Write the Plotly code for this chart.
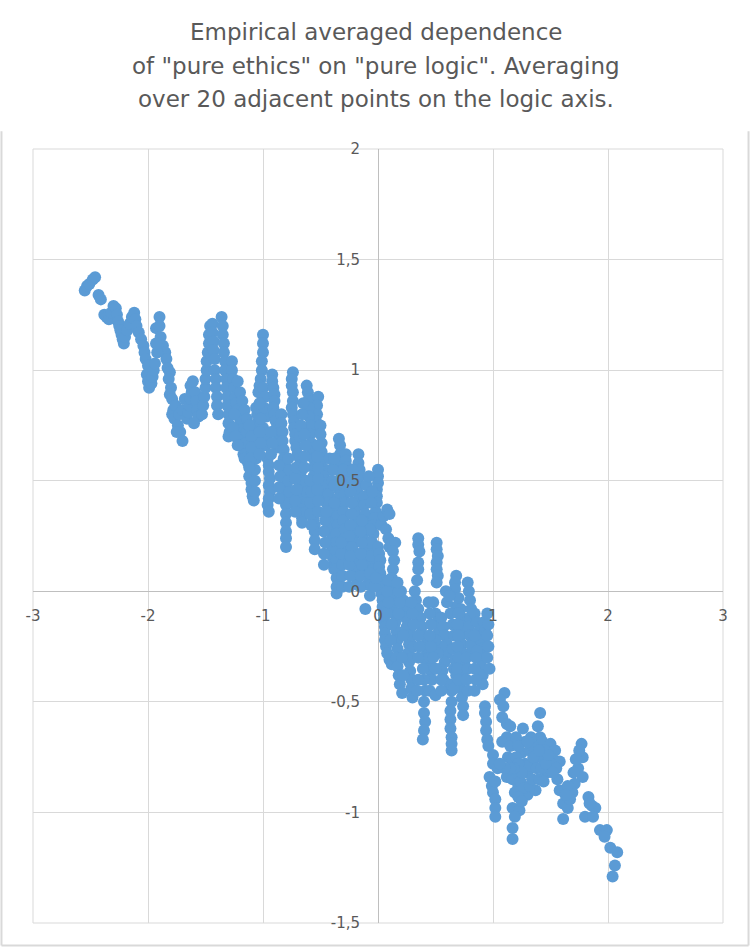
import plotly.graph_objects as go

# Points, grouped by region of the logic axis
seg_left = [
    (-2.55, 1.36), (-2.53, 1.38), (-2.51, 1.39), (-2.48, 1.41), (-2.46, 1.42),
    (-2.43, 1.34), (-2.41, 1.32), (-2.38, 1.25), (-2.36, 1.24), (-2.34, 1.23), (-2.32, 1.26),
    (-2.30, 1.29), (-2.28, 1.28), (-2.27, 1.25), (-2.26, 1.22),
    (-2.25, 1.20), (-2.24, 1.18), (-2.23, 1.16), (-2.22, 1.14), (-2.21, 1.12), (-2.20, 1.15),
    (-2.18, 1.18), (-2.16, 1.21), (-2.14, 1.24), (-2.12, 1.26), (-2.11, 1.23), (-2.10, 1.20), (-2.08, 1.17),
    (-2.06, 1.14), (-2.04, 1.11), (-2.03, 1.08), (-2.02, 1.05), (-2.00, 1.02), (-2.01, 0.98),
    (-2.00, 0.95), (-1.99, 0.92), (-1.97, 0.94), (-1.96, 0.97), (-1.95, 1.00), (-1.94, 1.03),
    (-1.93, 1.19), (-1.90, 1.24), (-1.90, 1.20), (-1.89, 1.15), (-1.87, 1.11), (-1.85, 1.08),
    (-1.84, 1.05), (-1.83, 1.01), (-1.81, 0.99), (-1.82, 0.96), (-1.80, 0.92), (-1.81, 0.89),
    (-1.79, 0.87), (-1.78, 0.82), (-1.79, 0.80), (-1.77, 0.78), (-1.74, 0.75), (-1.72, 0.72), (-1.70, 0.68),
    (-1.92, 1.08), (-1.93, 1.12), (-1.76, 0.84), (-1.73, 0.80), (-1.75, 0.72),
]

seg_mid_left = [
    (-1.68, 0.87), (-1.70, 0.82), (-1.66, 0.78), (-1.65, 0.81), (-1.64, 0.84), (-1.63, 0.87),
    (-1.62, 0.90), (-1.63, 0.93), (-1.61, 0.95), (-1.59, 0.90), (-1.58, 0.86), (-1.57, 0.82),
    (-1.56, 0.79), (-1.60, 0.76),
    (-1.53, 0.80), (-1.52, 0.84), (-1.51, 0.88), (-1.50, 0.92), (-1.50, 0.96), (-1.49, 1.00),
    (-1.49, 1.04), (-1.48, 1.08), (-1.47, 1.12), (-1.47, 1.16), (-1.46, 1.20), (-1.44, 1.21),
    (-1.44, 1.17), (-1.43, 1.13), (-1.43, 1.09), (-1.42, 1.05), (-1.42, 1.00), (-1.41, 0.96),
    (-1.41, 0.92), (-1.40, 0.88), (-1.40, 0.84), (-1.39, 0.80),
    (-1.36, 1.24), (-1.35, 1.20), (-1.35, 1.16), (-1.34, 1.12), (-1.34, 1.08), (-1.33, 1.04),
    (-1.33, 1.00), (-1.32, 0.96), (-1.32, 0.92), (-1.31, 0.88), (-1.31, 0.84), (-1.30, 0.80),
    (-1.30, 0.76), (-1.29, 0.72), (-1.30, 0.70),
    (-1.27, 1.04), (-1.27, 1.00), (-1.26, 0.96), (-1.25, 0.92), (-1.24, 0.88), (-1.23, 0.85),
    (-1.22, 0.82), (-1.21, 0.79), (-1.20, 0.76), (-1.19, 0.73), (-1.18, 0.70), (-1.18, 0.66),
    (-1.17, 0.62), (-1.16, 0.60),
    (-1.12, 0.52), (-1.10, 0.49), (-1.10, 0.46), (-1.09, 0.43), (-1.08, 0.41), (-1.07, 0.45),
    (-1.07, 0.50), (-1.07, 0.55), (-1.06, 0.60), (-1.06, 0.64), (-1.05, 0.68), (-1.05, 0.72),
    (-1.05, 0.76), (-1.05, 0.80), (-1.06, 0.83), (-1.14, 0.72), (-1.15, 0.67), (-1.13, 0.58),
    (-1.00, 1.16), (-1.00, 1.12), (-1.00, 1.08), (-1.01, 1.04), (-1.01, 1.00), (-1.02, 0.96),
    (-1.03, 0.93), (-1.04, 0.90), (-1.00, 0.92), (-0.98, 0.88), (-0.97, 0.79), (-1.00, 0.74),
    (-0.99, 0.83), (-0.97, 0.70), (-0.98, 0.66),
]

seg_center = [
    (-0.96, 0.60), (-0.95, 0.57), (-0.95, 0.54), (-0.94, 0.51), (-0.95, 0.48), (-0.94, 0.45),
    (-0.95, 0.42), (-0.96, 0.39), (-0.95, 0.36),
    (-0.92, 0.98), (-0.92, 0.95), (-0.91, 0.92), (-0.90, 0.89), (-0.90, 0.86), (-0.91, 0.83),
    (-0.90, 0.80), (-0.89, 0.77), (-0.88, 0.74), (-0.87, 0.71), (-0.86, 0.68), (-0.87, 0.65),
    (-0.84, 0.80), (-0.84, 0.76), (-0.83, 0.72), (-0.83, 0.68), (-0.82, 0.64), (-0.82, 0.60),
    (-0.81, 0.56), (-0.81, 0.52), (-0.80, 0.48), (-0.80, 0.45), (-0.80, 0.42), (-0.80, 0.39),
    (-0.80, 0.35), (-0.80, 0.31), (-0.80, 0.27), (-0.80, 0.24), (-0.80, 0.20),
    (-0.74, 0.99), (-0.75, 0.96), (-0.75, 0.93), (-0.74, 0.90), (-0.74, 0.86), (-0.75, 0.83),
    (-0.74, 0.80), (-0.73, 0.77), (-0.73, 0.74), (-0.72, 0.71), (-0.72, 0.68), (-0.71, 0.65), (-0.70, 0.62),
    (-0.68, 0.60), (-0.68, 0.57), (-0.67, 0.54), (-0.67, 0.50), (-0.67, 0.47), (-0.66, 0.43),
    (-0.66, 0.40), (-0.67, 0.37), (-0.66, 0.33), (-0.66, 0.31),
    (-0.62, 0.93), (-0.61, 0.90), (-0.60, 0.87), (-0.58, 0.86), (-0.52, 0.88), (-0.53, 0.84),
    (-0.53, 0.80), (-0.54, 0.77), (-0.55, 0.74), (-0.60, 0.83), (-0.60, 0.79), (-0.59, 0.75),
    (-0.59, 0.71), (-0.58, 0.67), (-0.57, 0.63), (-0.56, 0.60), (-0.56, 0.56),
    (-0.56, 0.52), (-0.56, 0.48), (-0.55, 0.45), (-0.55, 0.41), (-0.56, 0.37), (-0.56, 0.33),
    (-0.55, 0.30), (-0.55, 0.27), (-0.55, 0.23), (-0.55, 0.19),
    (-0.50, 0.75), (-0.50, 0.71), (-0.49, 0.67), (-0.49, 0.63), (-0.48, 0.60), (-0.48, 0.56),
    (-0.47, 0.52), (-0.46, 0.48), (-0.46, 0.44), (-0.45, 0.40),
    (-0.43, 0.44), (-0.43, 0.40), (-0.42, 0.36), (-0.42, 0.32), (-0.41, 0.28), (-0.40, 0.24),
    (-0.40, 0.20), (-0.40, 0.16), (-0.39, 0.12), (-0.38, 0.10),
    (-0.34, 0.69), (-0.33, 0.66), (-0.33, 0.62), (-0.33, 0.58), (-0.33, 0.54), (-0.34, 0.50),
    (-0.34, 0.46), (-0.35, 0.42), (-0.35, 0.38), (-0.35, 0.34), (-0.35, 0.30), (-0.36, 0.26),
    (-0.36, 0.22), (-0.36, 0.18), (-0.36, 0.14), (-0.36, 0.10), (-0.36, 0.06), (-0.36, 0.02), (-0.36, -0.01),
    (-0.28, 0.62), (-0.28, 0.59), (-0.27, 0.56), (-0.27, 0.52), (-0.28, 0.48), (-0.29, 0.44),
    (-0.29, 0.40), (-0.30, 0.36), (-0.30, 0.32), (-0.29, 0.28), (-0.29, 0.24), (-0.28, 0.20),
    (-0.27, 0.16), (-0.26, 0.13),
    (-0.17, 0.62), (-0.17, 0.58), (-0.16, 0.55), (-0.16, 0.52), (-0.17, 0.48), (-0.18, 0.45),
    (-0.18, 0.41), (-0.19, 0.38), (-0.19, 0.34), (-0.20, 0.30), (-0.20, 0.26), (-0.21, 0.22),
    (-0.21, 0.18), (-0.20, 0.14), (-0.20, 0.10), (-0.19, 0.06), (-0.18, 0.03),
    (-0.12, 0.43), (-0.12, 0.39), (-0.11, 0.35), (-0.11, 0.31), (-0.12, 0.27), (-0.12, 0.23),
    (-0.11, 0.19), (-0.10, 0.15), (-0.10, 0.11), (-0.09, 0.07), (-0.09, 0.03), (-0.11, -0.08),
    (0.00, 0.55), (0.00, 0.52), (0.00, 0.49), (-0.01, 0.46), (-0.01, 0.43), (-0.01, 0.40),
    (-0.02, 0.36), (-0.03, 0.33), (-0.04, 0.30), (-0.04, 0.26), (-0.05, 0.22), (-0.05, 0.18),
    (-0.05, 0.14), (-0.04, 0.10),
    (-0.63, 0.50), (-0.62, 0.45), (-0.61, 0.40), (-0.62, 0.36), (-0.24, 0.45), (-0.23, 0.40),
    (-0.23, 0.35), (-0.24, 0.30), (-0.25, 0.25), (-0.23, 0.20), (-0.68, 0.70), (-0.67, 0.75),
    (-0.66, 0.80), (-0.65, 0.85), (-0.42, 0.60), (-0.41, 0.55), (-0.40, 0.50), (-0.07, 0.28),
    (-0.07, 0.22), (-0.06, 0.16), (-0.38, 0.48), (-0.38, 0.40),
]

seg_mid_right = [
    (0.00, 0.20), (0.01, 0.17), (0.02, 0.14), (0.01, 0.11), (0.02, 0.08), (0.03, 0.05),
    (0.02, 0.02), (0.03, -0.01), (0.04, -0.04), (0.04, -0.07), (0.05, -0.10), (0.05, -0.13),
    (0.06, -0.16), (0.06, -0.19), (0.06, -0.22), (0.07, -0.25), (0.08, -0.28), (0.10, -0.31), (0.12, -0.33),
    (0.03, 0.30), (0.05, 0.34), (0.08, 0.37), (0.10, 0.35), (0.07, 0.28), (0.09, 0.24),
    (0.10, 0.20), (0.12, 0.22), (0.15, 0.22), (0.13, 0.18), (0.14, 0.14), (0.13, 0.10), (0.12, 0.06),
    (0.11, 0.02), (0.12, -0.02), (0.13, -0.06), (0.14, -0.10), (0.15, -0.14), (0.16, -0.18),
    (0.17, -0.22), (0.17, -0.26), (0.16, -0.30), (0.17, -0.34), (0.18, -0.38), (0.19, -0.42), (0.21, -0.46),
    (0.20, 0.00), (0.22, -0.04), (0.23, -0.08), (0.24, -0.12), (0.25, -0.16), (0.26, -0.20),
    (0.27, -0.24), (0.26, -0.28), (0.27, -0.32), (0.28, -0.36), (0.29, -0.40), (0.29, -0.44), (0.30, -0.48),
    (0.35, 0.24), (0.35, 0.21), (0.36, 0.18), (0.35, 0.13), (0.35, 0.10), (0.34, 0.05),
    (0.32, 0.00), (0.33, -0.04), (0.35, -0.08), (0.37, -0.12), (0.38, -0.16), (0.40, -0.20),
    (0.42, -0.24), (0.43, -0.28), (0.44, -0.32), (0.46, -0.36), (0.47, -0.40),
    (0.39, -0.30), (0.39, -0.35), (0.40, -0.40), (0.41, -0.45), (0.40, -0.50), (0.40, -0.55),
    (0.41, -0.59), (0.40, -0.63), (0.39, -0.67),
    (0.51, 0.22), (0.51, 0.19), (0.52, 0.16), (0.51, 0.13), (0.51, 0.10), (0.52, 0.07), (0.51, 0.04),
    (0.48, -0.05), (0.50, -0.10), (0.52, -0.14), (0.53, -0.18), (0.55, -0.12), (0.57, -0.16),
    (0.58, -0.20), (0.60, -0.24), (0.60, -0.28), (0.58, -0.32), (0.56, -0.36), (0.55, -0.25),
    (0.52, -0.28), (0.50, -0.22),
    (0.64, -0.45), (0.64, -0.50), (0.63, -0.54), (0.63, -0.58), (0.63, -0.62), (0.64, -0.66),
    (0.64, -0.69), (0.64, -0.72),
    (0.68, 0.07), (0.67, 0.04), (0.67, 0.01), (0.70, -0.03), (0.68, -0.07),
    (0.72, -0.08), (0.73, -0.12), (0.74, -0.16), (0.72, -0.20), (0.73, -0.24), (0.74, -0.28),
    (0.75, -0.32), (0.74, -0.36), (0.73, -0.40), (0.72, -0.44), (0.73, -0.48), (0.74, -0.52), (0.74, -0.56),
    (0.78, 0.04), (0.79, 0.00), (0.80, -0.04), (0.81, -0.08), (0.80, -0.12), (0.79, -0.16),
    (0.80, -0.20), (0.81, -0.24), (0.80, -0.28),
    (0.84, -0.10), (0.86, -0.14), (0.88, -0.18), (0.89, -0.22), (0.90, -0.26), (0.88, -0.30),
    (0.90, -0.34), (0.91, -0.38), (0.91, -0.42), (0.86, -0.27), (0.84, -0.20), (0.92, -0.14), (0.93, -0.18),
    (0.93, -0.52), (0.93, -0.55), (0.94, -0.59), (0.94, -0.63), (0.95, -0.67), (0.96, -0.70),
    (0.63, -0.10), (0.65, -0.15), (0.66, -0.20), (0.65, -0.26), (0.67, -0.31), (0.66, -0.35),
    (0.57, -0.40), (0.62, -0.42), (0.66, -0.44), (0.68, -0.38), (0.45, -0.45), (0.50, -0.47),
]

seg_right = [
    (1.00, -0.74), (1.00, -0.78), (0.97, -0.84), (0.99, -0.88), (1.00, -0.91), (1.02, -0.94),
    (1.02, -0.98), (1.02, -1.02),
    (1.10, -0.46), (1.06, -0.49), (1.09, -0.52), (1.08, -0.57), (1.12, -0.60), (1.15, -0.61),
    (1.12, -0.66), (1.08, -0.68), (1.15, -0.70), (1.13, -0.75), (1.17, -0.76),
    (1.12, -0.84), (1.17, -0.85), (1.22, -0.88), (1.19, -0.91), (1.30, -0.92), (1.37, -0.90),
    (1.17, -0.98), (1.23, -0.99), (1.19, -1.02), (1.17, -1.07), (1.17, -1.12),
    (1.26, -0.62), (1.28, -0.68), (1.25, -0.73), (1.28, -0.78), (1.30, -0.82),
    (1.41, -0.55), (1.39, -0.61), (1.41, -0.66), (1.43, -0.68), (1.50, -0.69), (1.54, -0.72),
    (1.52, -0.76), (1.58, -0.77), (1.47, -0.82), (1.35, -0.79), (1.38, -0.75),
    (1.56, -0.85), (1.58, -0.90), (1.61, -0.96), (1.65, -0.98), (1.61, -1.03),
    (1.77, -0.69), (1.78, -0.75), (1.74, -0.80), (1.78, -0.84), (1.71, -0.87), (1.69, -0.91), (1.67, -0.94),
    (1.83, -0.93), (1.86, -0.97), (1.89, -0.98), (1.80, -1.02), (1.87, -1.02),
    (1.93, -1.08), (1.99, -1.08), (1.97, -1.11),
    (2.02, -1.16), (2.08, -1.18), (2.06, -1.24), (2.04, -1.29),
    (1.20, -0.82), (1.24, -0.86), (1.27, -0.89), (1.32, -0.88), (1.34, -0.85), (1.30, -0.79),
    (1.22, -0.93), (1.25, -0.95), (1.32, -0.72), (1.35, -0.70), (1.45, -0.72), (1.50, -0.78),
    (1.55, -0.80), (1.44, -0.76), (1.04, -0.80), (1.02, -0.86),
]

# extra points in the denser parts of the band
seg_fill = [
    (-1.22, 0.95), (-1.20, 0.90), (-1.18, 0.86), (-1.16, 0.82), (-1.14, 0.78), (-1.12, 0.75),
    (-1.10, 0.70), (-1.10, 0.65), (-1.11, 0.60), (-1.12, 0.56), (-1.03, 0.62), (-1.02, 0.67),
    (-1.03, 0.72), (-1.02, 0.78), (-1.03, 0.85), (-1.26, 0.74), (-1.24, 0.70), (-1.22, 0.66), (-1.25, 0.80),
    (-0.93, 0.62), (-0.92, 0.67), (-0.93, 0.72), (-0.86, 0.42), (-0.86, 0.47), (-0.85, 0.52),
    (-0.86, 0.57), (-0.77, 0.40), (-0.77, 0.45), (-0.78, 0.50), (-0.77, 0.55), (-0.78, 0.60),
    (-0.72, 0.36), (-0.72, 0.41), (-0.71, 0.46), (-0.72, 0.51), (-0.71, 0.56), (-0.64, 0.56),
    (-0.64, 0.61), (-0.63, 0.66), (-0.64, 0.71), (-0.58, 0.30), (-0.59, 0.35), (-0.59, 0.40),
    (-0.58, 0.45), (-0.59, 0.50), (-0.52, 0.36), (-0.52, 0.41), (-0.53, 0.46), (-0.52, 0.51),
    (-0.52, 0.56), (-0.53, 0.61), (-0.52, 0.66),
    (-0.47, 0.12), (-0.47, 0.17), (-0.46, 0.22), (-0.47, 0.27), (-0.46, 0.32), (-0.45, 0.36),
    (-0.31, 0.02), (-0.31, 0.07), (-0.31, 0.12), (-0.32, 0.17), (-0.32, 0.22), (-0.25, 0.02),
    (-0.24, 0.07), (-0.25, 0.12), (-0.24, 0.16), (-0.15, 0.02), (-0.15, 0.07), (-0.14, 0.12),
    (-0.15, 0.17), (-0.14, 0.22), (-0.15, 0.27), (-0.14, 0.32), (-0.07, -0.02), (-0.06, 0.03),
    (-0.07, 0.08), (-0.03, 0.02), (-0.02, 0.06),
    (-0.39, 0.55), (-0.38, 0.60), (-0.30, 0.55), (-0.22, 0.50), (-0.22, 0.55), (-0.10, 0.48),
    (-0.08, 0.52), (-0.06, 0.40), (-0.05, 0.45),
    (0.08, -0.10), (0.09, -0.05), (0.08, 0.00), (0.09, 0.05), (0.18, -0.10), (0.19, -0.05),
    (0.18, 0.00), (0.17, 0.04), (0.30, -0.30), (0.31, -0.25), (0.30, -0.20), (0.31, -0.15),
    (0.30, -0.10), (0.29, -0.05), (0.35, -0.30), (0.36, -0.25), (0.35, -0.20), (0.45, -0.30),
    (0.46, -0.25), (0.45, -0.20), (0.46, -0.15), (0.45, -0.10), (0.44, -0.05), (0.55, -0.45),
    (0.55, -0.40), (0.54, -0.35), (0.60, -0.05), (0.59, 0.00), (0.62, -0.02), (0.70, -0.10),
    (0.69, -0.15), (0.70, -0.20), (0.69, -0.25), (0.70, -0.30), (0.69, -0.35), (0.70, -0.40),
    (0.77, -0.30), (0.78, -0.35), (0.77, -0.40), (0.78, -0.45), (0.85, -0.30), (0.84, -0.35),
    (0.85, -0.40), (0.84, -0.45), (0.95, -0.10), (0.96, -0.15), (0.95, -0.20), (0.96, -0.25),
    (0.95, -0.30), (0.97, -0.35),
    (0.22, -0.20), (0.21, -0.30), (0.22, -0.38), (0.12, -0.15), (0.11, -0.22), (0.35, -0.40),
    (0.34, -0.45), (0.50, -0.35), (0.48, -0.30),
    (1.20, -0.66), (1.22, -0.70), (1.20, -0.75), (1.22, -0.78), (1.25, -0.82), (1.35, -0.75),
    (1.38, -0.80), (1.40, -0.85), (1.42, -0.80), (1.46, -0.78), (1.48, -0.74), (1.52, -0.82),
    (1.44, -0.86), (1.40, -0.72), (1.33, -0.66), (1.30, -0.68), (1.18, -0.80), (1.15, -0.80),
    (1.10, -0.80), (1.06, -0.78), (1.65, -0.88), (1.70, -0.82), (1.72, -0.76), (1.75, -0.72),
    (1.63, -0.92), (1.84, -0.96),
]

x_tick_vals = [-3, -2, -1, 0, 1, 2, 3]
x_tick_text = ["-3", "-2", "-1", "0", "1", "2", "3"]
y_tick_vals = [-1.5, -1, -0.5, 0, 0.5, 1, 1.5, 2]
y_tick_text = ["-1,5", "-1", "-0,5", "0", "0,5", "1", "1,5", "2"]

title_lines = [
    "Empirical averaged dependence",
    'of "pure ethics" on "pure logic". Averaging',
    "over 20 adjacent points on the logic axis.",
]

points = seg_left + seg_mid_left + seg_center + seg_mid_right + seg_right + seg_fill
logic = [p[0] for p in points]
ethics = [p[1] for p in points]

text_color = "#595959"
grid_color = "#d9d9d9"

fig = go.Figure(go.Scatter(
    x=logic, y=ethics, mode="markers",
    marker=dict(size=12, color="#5b9bd5", line=dict(width=0)),
    hoverinfo="skip",
))

axis_common = dict(
    showgrid=True, gridcolor=grid_color, gridwidth=1,
    zeroline=True, zerolinecolor="#bfbfbf", zerolinewidth=1,
    showline=False, ticks="", automargin=False,
    tickfont=dict(family="DejaVu Sans", size=15, color=text_color),
    anchor="free",
)

fig.update_layout(
    width=752, height=948,
    margin=dict(l=33, r=29, t=149, b=25),
    paper_bgcolor="white", plot_bgcolor="white",
    showlegend=False,
    xaxis=dict(range=[-3, 3], tickvals=x_tick_vals, ticktext=x_tick_text,
               position=1.5 / 3.5, ticklabelstandoff=14, **axis_common),
    yaxis=dict(range=[-1.5, 2], tickvals=y_tick_vals, ticktext=y_tick_text,
               position=0.5, ticklabelstandoff=18, **axis_common),
)

# three title lines, Excel-like spacing
for i, line in enumerate(title_lines):
    fig.add_annotation(
        text=line, xref="paper", yref="paper", x=0.497, y=1.151 - i * 0.0435,
        xanchor="center", yanchor="middle", showarrow=False,
        font=dict(family="DejaVu Sans", size=23, color=text_color),
    )

# plot area box and chart border
fig.add_shape(type="rect", xref="paper", yref="paper", x0=0, y0=0, x1=1, y1=1,
              line=dict(color=grid_color, width=1), layer="below")
border = dict(color="#d9d9d9", width=2)
fig.add_shape(type="line", xref="paper", yref="paper", x0=-0.0457, x1=-0.0457, y0=-0.029, y1=1.023, line=border)
fig.add_shape(type="line", xref="paper", yref="paper", x0=1.037, x1=1.037, y0=-0.029, y1=1.023, line=border)
fig.add_shape(type="line", xref="paper", yref="paper", x0=-0.0457, x1=1.037, y0=-0.029, y1=-0.029, line=border)

# page has a default 8px body margin; drop it so the figure sits at the corner
fig.write_html("out.html", config={"displayModeBar": False},
               post_script="document.body.style.margin = '0';")
